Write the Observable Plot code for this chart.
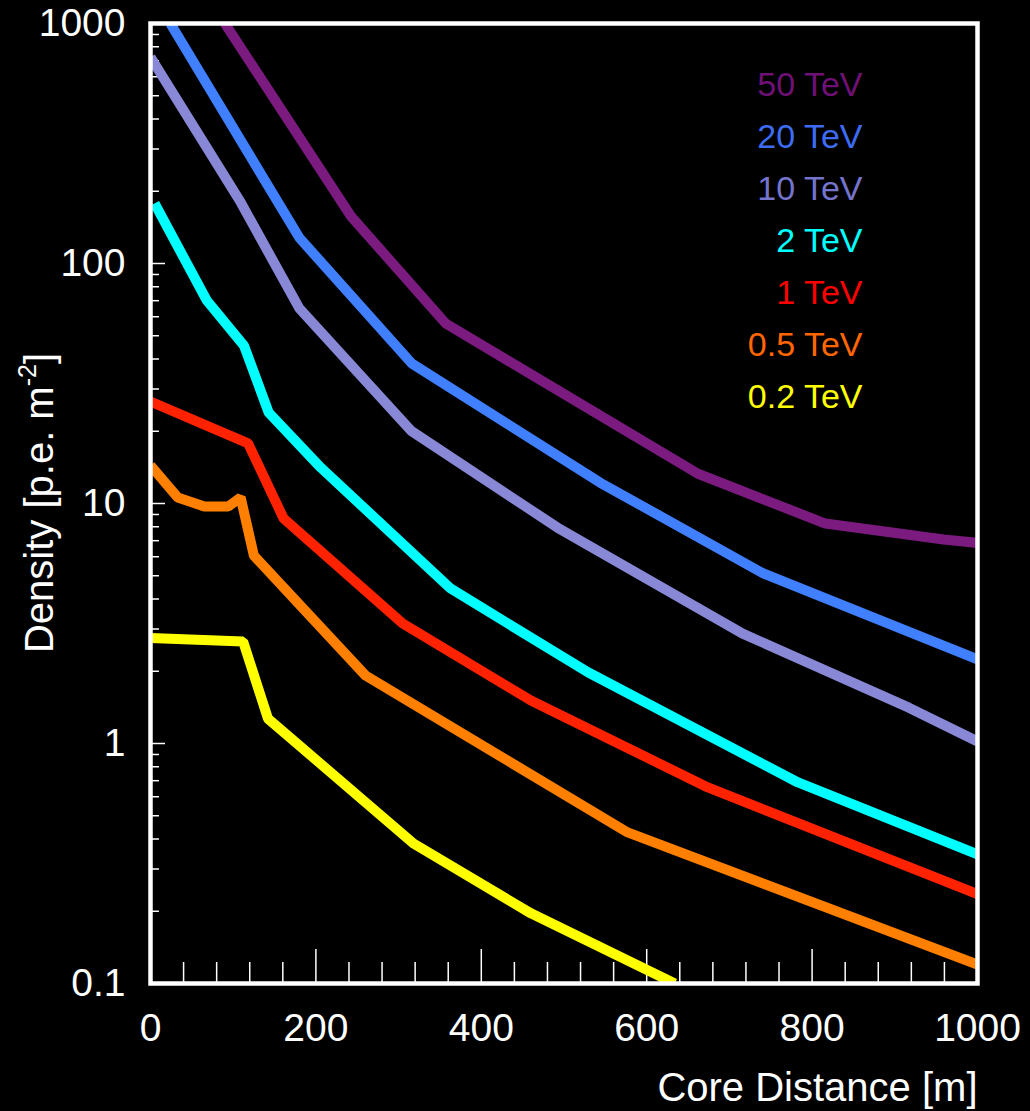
<!DOCTYPE html>
<html>
<head>
<meta charset="utf-8">
<script src="https://cdn.jsdelivr.net/npm/d3@7"></script>
<script src="https://cdn.jsdelivr.net/npm/@observablehq/plot@0.6"></script>
<style>
  html, body { margin: 0; padding: 0; background: #000; }
  #chart { width: 1030px; height: 1111px; }
</style>
</head>
<body>
<div id="chart"></div>
<script>
// ---- Data ----
const energies = ["50 TeV", "20 TeV", "10 TeV", "2 TeV", "1 TeV", "0.5 TeV", "0.2 TeV"];
const lineColors = ["#7b1b7f", "#4080ff", "#8888d6", "#00ffff", "#ff2200", "#ff8000", "#ffff00"];
const textColors = ["#6e1076", "#3d6cf2", "#7474cc", "#00ffff", "#ff0000", "#ff6600", "#ffff00"];

const e50x = [90, 242, 357, 662, 816, 959, 1000];
const e50y = [1000, 158, 56.2, 13.3, 8.25, 7.08, 6.85];

const e20x = [24, 180, 316, 544, 741, 1000];
const e20y = [1000, 128, 38.3, 12.2, 5.11, 2.24];

const e10x = [0, 109, 180, 315, 492, 716, 917, 1000];
const e10y = [725, 180, 65, 20.1, 7.94, 2.87, 1.41, 1.02];

const e2x = [5, 68, 113, 143, 206, 363, 529, 783, 1000];
const e2y = [178, 70.2, 45.5, 23.9, 14.1, 4.42, 1.98, 0.688, 0.345];

const e1x = [0, 118, 161, 305, 460, 674, 1000];
const e1y = [26.6, 17.8, 8.66, 3.16, 1.51, 0.656, 0.236];

const e05x = [0, 33, 65, 94, 109, 125, 260, 577, 1000];
const e05y = [14.4, 10.6, 9.72, 9.72, 10.6, 6.07, 1.92, 0.426, 0.12];

const e02x = [0, 112, 142, 318, 460, 634];
const e02y = [2.75, 2.66, 1.27, 0.383, 0.196, 0.1];

const seriesX = [e50x, e20x, e10x, e2x, e1x, e05x, e02x];
const seriesY = [e50y, e20y, e10y, e2y, e1y, e05y, e02y];

// Ticks
const yTickValues = [0.1, 1, 10, 100, 1000];
const yTickLabels = ["0.1", "1", "10", "100", "1000"];
const yMinorMult = [2, 3, 4, 5, 6, 7, 8, 9];
const yMinorDecades = [0.1, 1, 10, 100];
const xTickValues = [0, 200, 400, 600, 800, 1000];
const xTickLabels = ["0", "200", "400", "600", "800", "1000"];
const xMinorValues = [40, 80, 120, 160, 240, 280, 320, 360, 440, 480, 520, 560, 640, 680, 720, 760, 840, 880, 920, 960];
const xMajorInner = [200, 400, 600, 800];
const yMajorInner = [1, 10, 100];

const xLabel = "Core Distance [m]";

// ---- Build tables ----
const series = energies.map((label, i) => ({
  label,
  color: lineColors[i],
  textColor: textColors[i],
  points: seriesX[i].map((x, j) => ({x, y: seriesY[i][j]}))
}));
const yMinorValues = yMinorDecades.flatMap(d => yMinorMult.map(m => +(m * d).toPrecision(3)));

// ---- Layout ----
const W = 1030, H = 1111;
const mL = 150, mR = 53, mT = 23, mB = 128;
const fw = W - mL - mR, fh = H - mT - mB;
const font = "'Liberation Sans', Arial, Helvetica, sans-serif";

const marks = [
  Plot.tickY(yMinorValues, {y: d => d, stroke: "white", strokeWidth: 1.5, insetRight: fw - 9}),
  Plot.tickY(yMajorInner, {y: d => d, stroke: "white", strokeWidth: 1.5, insetRight: fw - 15}),
  Plot.tickX(xMinorValues, {x: d => d, stroke: "white", strokeWidth: 1.5, insetTop: fh - 21}),
  Plot.tickX(xMajorInner, {x: d => d, stroke: "white", strokeWidth: 1.5, insetTop: fh - 34}),
  ...series.map(s => Plot.line(s.points, {
    x: "x", y: "y", stroke: s.color, strokeWidth: 10,
    strokeLinecap: "butt", strokeLinejoin: "miter", clip: true
  })),
  Plot.frame({stroke: "white", strokeWidth: 4.5}),
  Plot.text(yTickValues, {y: d => d, text: (d, i) => yTickLabels[i], frameAnchor: "left", dx: -25,
    textAnchor: "end", lineAnchor: "middle", fill: "white", fontSize: 39}),
  Plot.text(xTickValues, {x: d => d, text: (d, i) => xTickLabels[i], frameAnchor: "bottom", dy: 45,
    textAnchor: "middle", lineAnchor: "middle", fill: "white", fontSize: 39}),
  Plot.text([xLabel], {text: d => d, frameAnchor: "bottom-right", dy: 117, textAnchor: "end",
    lineAnchor: "bottom", fill: "white", fontSize: 40}),
  ...series.map((s, i) => Plot.text([s.label], {text: d => d, frameAnchor: "top-right",
    dx: -115, dy: 72 + i * 52, textAnchor: "end", lineAnchor: "bottom", fill: s.textColor, fontSize: 34}))
];

const chart = Plot.plot({
  width: W, height: H,
  marginLeft: mL, marginRight: mR, marginTop: mT, marginBottom: mB,
  style: {background: "black", color: "white", fontFamily: font, overflow: "visible"},
  x: {domain: [0, 1000], axis: null},
  y: {type: "log", domain: [0.1, 1000], axis: null},
  marks
});

// y-axis label with superscript
const svg = d3.select(chart);
const yl = svg.append("text")
  .attr("transform", `translate(53, ${mT + fh / 2}) rotate(-90)`)
  .attr("text-anchor", "middle")
  .attr("fill", "white")
  .attr("font-family", font)
  .attr("font-size", 40);
yl.append("tspan").text("Density [p.e. m");
yl.append("tspan").attr("font-size", 25).attr("dy", -17).text("-2");
yl.append("tspan").attr("dy", 17).text("]");

document.getElementById("chart").appendChild(chart);
</script>
</body>
</html>
